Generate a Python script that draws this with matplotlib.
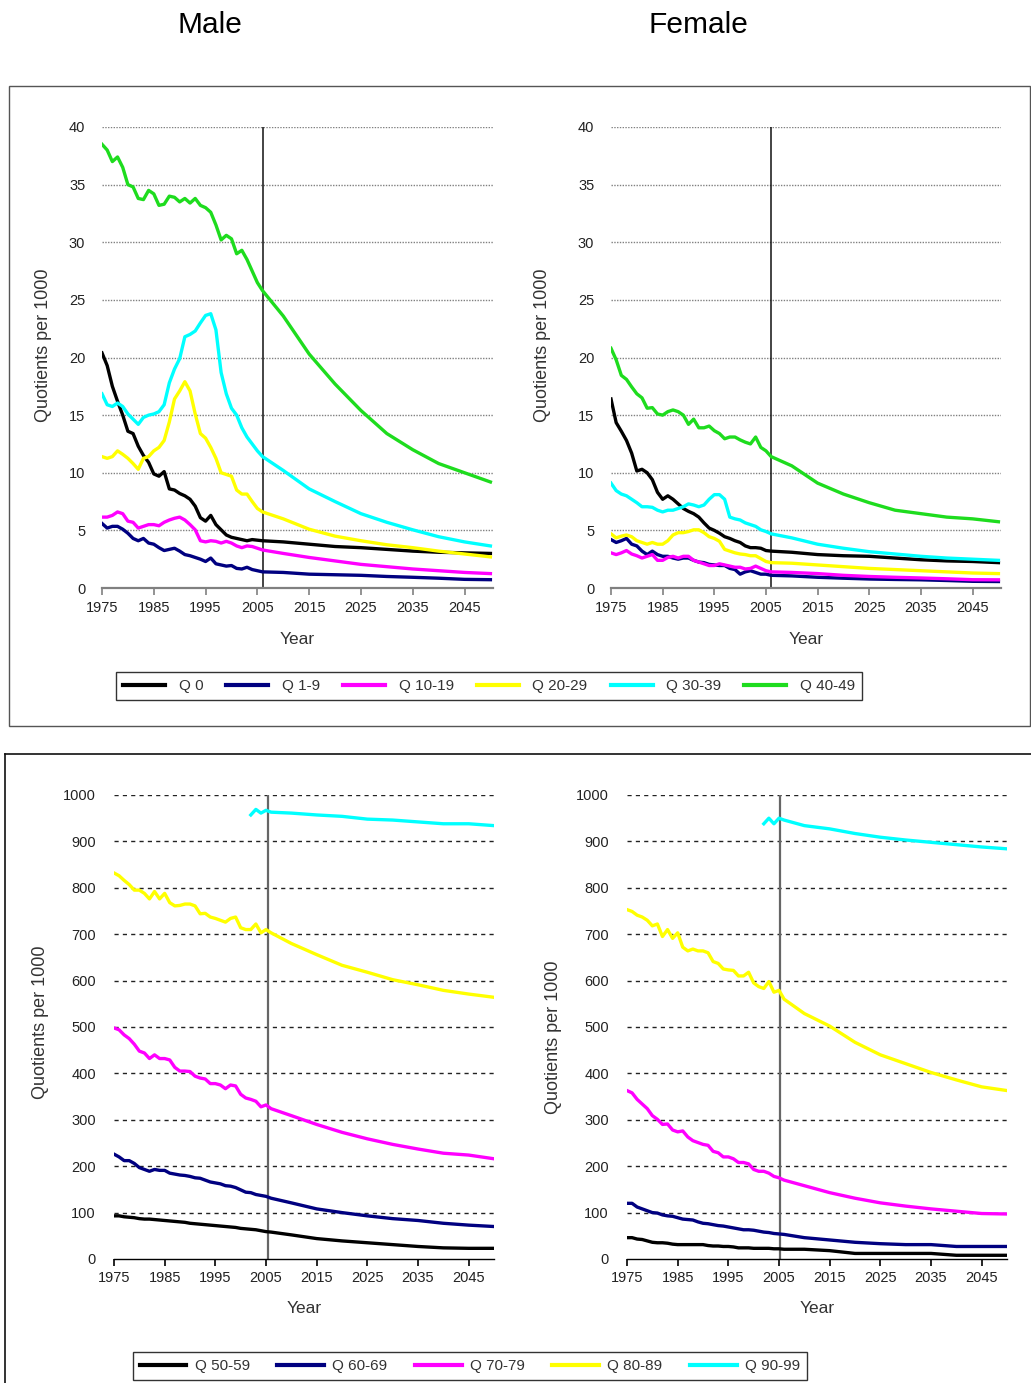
import numpy as np
import matplotlib
matplotlib.use("Agg")
import matplotlib.pyplot as plt
from matplotlib.lines import Line2D
from matplotlib.patches import Rectangle

plt.rcParams["font.family"] = ["Liberation Sans", "DejaVu Sans"]

W, H = 1031, 1383
NAN = np.nan

# Observed years 1975-2006, then projections every five years
years = list(range(1975, 2007)) + [2010, 2015, 2020, 2025, 2030, 2035, 2040, 2045, 2050]

# ---- Younger age groups, quotients per 1000 ----
young_labels = ["Q 0", "Q 1-9", "Q 10-19", "Q 20-29", "Q 30-39", "Q 40-49"]
young_colors = ["#000000", "#000080", "#ff00ff", "#ffff00", "#00ffff", "#1edc1e"]

male_q0 = [20.4, 19.3, 17.5, 16.2, 15.0, 13.6, 13.4, 12.3, 11.5, 10.9, 9.9, 9.7, 10.1, 8.6, 8.5, 8.2,
           8.0, 7.7, 7.1, 6.1, 5.8, 6.3, 5.5, 5.05, 4.6, 4.4, 4.3, 4.2, 4.1, 4.2, 4.15, 4.1,
           4.0, 3.8, 3.6, 3.5, 3.35, 3.2, 3.1, 3.05, 3.0]
male_q1_9 = [5.6, 5.2, 5.35, 5.35, 5.1, 4.75, 4.3, 4.1, 4.3, 3.9, 3.8, 3.5, 3.25, 3.35, 3.45, 3.2,
             2.9, 2.8, 2.65, 2.5, 2.3, 2.6, 2.1, 2.0, 1.9, 1.95, 1.7, 1.65, 1.8, 1.6, 1.5, 1.4,
             1.35, 1.2, 1.15, 1.1, 1.0, 0.93, 0.85, 0.75, 0.72]
male_q10_19 = [6.15, 6.15, 6.3, 6.6, 6.45, 5.8, 5.7, 5.2, 5.35, 5.5, 5.5, 5.4, 5.7, 5.9, 6.05, 6.15,
               5.9, 5.5, 5.05, 4.1, 4.0, 4.1, 4.05, 3.9, 4.05, 3.9, 3.65, 3.5, 3.65, 3.6, 3.45, 3.3,
               3.0, 2.65, 2.35, 2.05, 1.85, 1.65, 1.5, 1.35, 1.25]
male_q20_29 = [11.4, 11.25, 11.4, 11.9, 11.6, 11.25, 10.8, 10.3, 11.25, 11.4, 11.9, 12.2, 12.8, 14.4, 16.4, 17.1,
               17.9, 17.1, 15.1, 13.4, 13.0, 12.2, 11.25, 10.0, 9.85, 9.7, 8.5, 8.15, 8.15, 7.5, 6.9, 6.6,
               6.0, 5.1, 4.5, 4.1, 3.75, 3.5, 3.2, 2.95, 2.7]
male_q30_39 = [16.85, 15.9, 15.75, 16.05, 15.75, 15.1, 14.65, 14.2, 14.8, 15.0, 15.1, 15.3, 15.9, 17.8, 19.0, 19.9,
               21.8, 22.0, 22.3, 23.0, 23.65, 23.8, 22.4, 18.7, 16.85, 15.6, 15.0, 13.9, 13.1, 12.5, 11.9, 11.4,
               10.2, 8.6, 7.5, 6.45, 5.7, 5.05, 4.45, 4.0, 3.65]
male_q40_49 = [38.5, 38.0, 37.0, 37.4, 36.5, 35.0, 34.8, 33.8, 33.7, 34.5, 34.2, 33.2, 33.3, 34.0, 33.9, 33.5,
               33.8, 33.4, 33.8, 33.2, 33.0, 32.6, 31.5, 30.2, 30.6, 30.3, 29.0, 29.3, 28.5, 27.5, 26.5, 25.8,
               23.6, 20.3, 17.7, 15.4, 13.4, 12.0, 10.8, 10.0, 9.2]

female_q0 = [16.4, 14.35, 13.6, 12.8, 11.7, 10.15, 10.3, 10.0, 9.4, 8.3, 7.7, 8.0, 7.7, 7.3, 6.9, 6.65,
             6.45, 6.15, 5.65, 5.2, 5.0, 4.75, 4.45, 4.3, 4.1, 3.95, 3.65, 3.5, 3.5, 3.45, 3.25, 3.2,
             3.1, 2.9, 2.8, 2.75, 2.6, 2.45, 2.35, 2.3, 2.2]
female_q1_9 = [4.2, 3.95, 4.1, 4.3, 3.8, 3.65, 3.2, 2.9, 3.2, 2.9, 2.75, 2.75, 2.6, 2.5, 2.6, 2.6,
               2.4, 2.25, 2.2, 2.05, 2.0, 1.95, 1.95, 1.7, 1.6, 1.2, 1.4, 1.5, 1.35, 1.2, 1.2, 1.1,
               1.05, 0.93, 0.85, 0.78, 0.74, 0.71, 0.65, 0.58, 0.56]
female_q10_19 = [3.05, 2.9, 3.05, 3.25, 2.95, 2.8, 2.6, 2.75, 2.9, 2.4, 2.4, 2.65, 2.75, 2.6, 2.75, 2.75,
                 2.4, 2.25, 2.1, 1.95, 1.95, 2.1, 2.0, 1.9, 1.8, 1.8, 1.65, 1.7, 1.9, 1.7, 1.5, 1.4,
                 1.35, 1.25, 1.1, 1.0, 0.93, 0.87, 0.8, 0.72, 0.71]
female_q20_29 = [4.7, 4.35, 4.5, 4.6, 4.45, 4.1, 3.95, 3.8, 3.95, 3.8, 3.8, 4.1, 4.6, 4.8, 4.8, 4.9,
                 5.05, 5.05, 4.8, 4.45, 4.3, 4.05, 3.35, 3.2, 3.05, 2.95, 2.9, 2.8, 2.8, 2.55, 2.3, 2.2,
                 2.15, 2.0, 1.85, 1.7, 1.6, 1.5, 1.4, 1.3, 1.25]
female_q30_39 = [9.1, 8.45, 8.15, 8.0, 7.7, 7.4, 7.05, 7.05, 7.0, 6.75, 6.6, 6.75, 6.75, 6.9, 7.05, 7.3,
                 7.2, 7.05, 7.2, 7.7, 8.1, 8.1, 7.7, 6.15, 6.0, 5.9, 5.65, 5.5, 5.35, 5.05, 4.9, 4.7,
                 4.35, 3.8, 3.45, 3.15, 2.95, 2.75, 2.6, 2.5, 2.4]
female_q40_49 = [20.8, 19.8, 18.45, 18.1, 17.45, 16.85, 16.5, 15.6, 15.65, 15.1, 15.0, 15.3, 15.45, 15.3, 15.0, 14.2,
                 14.65, 13.9, 13.9, 14.05, 13.65, 13.4, 12.95, 13.1, 13.1, 12.85, 12.65, 12.5, 13.1, 12.2, 11.9, 11.4,
                 10.6, 9.1, 8.15, 7.4, 6.75, 6.45, 6.15, 6.0, 5.75]

# ---- Older age groups, quotients per 1000 ----
old_labels = ["Q 50-59", "Q 60-69", "Q 70-79", "Q 80-89", "Q 90-99"]
old_colors = ["#000000", "#000080", "#ff00ff", "#ffff00", "#00ffff"]

male_q50_59 = [93, 93, 91, 90, 89, 87, 86, 86, 85, 84, 83, 82, 81, 80, 79, 77,
               76, 75, 74, 73, 72, 71, 70, 69, 68, 66, 65, 64, 63, 61, 59, 58,
               52, 44, 39, 35, 31, 27, 24, 23, 23]
male_q60_69 = [226, 220, 212, 212, 206, 197, 193, 189, 193, 191, 191, 185, 183, 181, 180, 178,
               175, 174, 170, 166, 164, 162, 158, 157, 154, 149, 144, 143, 139, 137, 135, 131,
               121, 108, 100, 93, 87, 83, 77, 73, 70]
male_q70_79 = [498, 494, 483, 475, 463, 448, 444, 432, 440, 432, 432, 429, 413, 405, 405, 404,
               394, 390, 388, 378, 378, 375, 367, 375, 373, 355, 347, 344, 340, 328, 332, 324,
               309, 290, 273, 259, 247, 237, 228, 224, 216]
male_q80_89 = [832, 826, 816, 807, 795, 795, 788, 776, 792, 776, 788, 768, 761, 762, 765, 765,
               761, 744, 745, 737, 734, 730, 726, 734, 737, 714, 710, 710, 722, 703, 710, 703,
               680, 656, 633, 618, 602, 591, 579, 571, 564]
male_q90_99 = [NAN] * 27 + [957, 969, 961, 967, 963,
               961, 957, 954, 948, 946, 942, 938, 938, 934]

female_q50_59 = [46, 46, 43, 42, 39, 36, 35, 35, 34, 32, 31, 31, 31, 31, 31, 31,
                 29, 28, 28, 27, 27, 26, 24, 24, 24, 23, 23, 23, 23, 22, 22, 21,
                 21, 18, 12, 12, 12, 12, 8, 8, 8]
female_q60_69 = [120, 120, 112, 108, 104, 100, 99, 95, 93, 92, 89, 86, 85, 84, 80, 77,
                 76, 74, 72, 71, 69, 67, 65, 63, 63, 62, 60, 58, 57, 55, 54, 53,
                 46, 41, 36, 33, 31, 31, 27, 27, 27]
female_q70_79 = [363, 358, 344, 334, 324, 309, 301, 290, 291, 278, 274, 276, 263, 255, 251, 247,
                 245, 232, 229, 220, 220, 216, 208, 208, 205, 193, 189, 189, 185, 178, 175, 170,
                 158, 143, 131, 121, 114, 108, 103, 98, 97]
female_q80_89 = [753, 749, 741, 737, 730, 718, 722, 695, 710, 691, 703, 672, 664, 668, 664, 664,
                 660, 641, 637, 625, 623, 622, 610, 610, 618, 595, 587, 583, 598, 575, 579, 560,
                 529, 502, 467, 440, 421, 402, 386, 371, 363]
female_q90_99 = [NAN] * 27 + [938, 950, 938, 950, 946,
                 934, 927, 917, 909, 903, 898, 893, 888, 884]

x_ticks = list(range(1975, 2046, 10))
base_year = 2006

fig = plt.figure(figsize=(W / 100, H / 100), dpi=100)


def axes_px(left, top, right, bottom):
    return fig.add_axes([left / W, 1 - bottom / H, (right - left) / W, (bottom - top) / H])


def style_axes(ax, ymax, ystep, grid_style, axis_color, vline_x, vline_color, vline_lw,
               xmax, ylabel_x, ylabel_y, xlabel_y, ypad):
    ax.set_xlim(1975, xmax)
    ax.set_ylim(0, ymax)
    yt = np.arange(0, ymax + 1, ystep)
    ax.set_yticks(yt)
    ax.set_xticks(x_ticks)
    for v in yt[1:]:
        ax.axhline(v, **grid_style, zorder=0)
    for s in ("top", "right", "left"):
        ax.spines[s].set_visible(False)
    ax.spines["bottom"].set_color(axis_color)
    ax.spines["bottom"].set_linewidth(1.6 if axis_color != "black" else 1.0)
    ax.tick_params(axis="x", length=5, width=1.2, color=axis_color, pad=4,
                   labelsize=10.5, labelcolor="#222222")
    ax.tick_params(axis="y", length=0, pad=ypad, labelsize=10.5, labelcolor="#222222")
    ax.axvline(vline_x, ymin=0, ymax=1, color=vline_color, lw=vline_lw, zorder=1)
    ax.set_ylabel("Quotients per 1000", fontsize=13, color="#333333")
    ax.yaxis.set_label_coords(ylabel_x, ylabel_y)
    ax.set_xlabel("Year", fontsize=12.5, color="#333333")
    ax.xaxis.set_label_coords(0.5, xlabel_y)
    ax.set_facecolor("none")


top_grid = dict(color="#808080", lw=1.0, ls=(0, (1, 1)))
low_grid = dict(color="#222222", lw=1.0, ls=(0, (3, 3)))

# Panel frames
fig.add_artist(Rectangle((9 / W, 1 - 726 / H), (1030 - 9) / W, (726 - 86) / H,
                         transform=fig.transFigure, fill=False, edgecolor="#555555", lw=1.0))
fig.add_artist(Line2D([5 / W, 1.0], [1 - 754 / H, 1 - 754 / H], transform=fig.transFigure,
                      color="#111111", lw=1.2))
fig.add_artist(Line2D([5 / W, 5 / W], [1 - 754 / H, 0.0], transform=fig.transFigure,
                      color="#111111", lw=1.2))

# Titles
fig.text(210 / W, 1 - 25 / H, "Male", ha="center", va="center", fontsize=21.5)
fig.text(698 / W, 1 - 25 / H, "Female", ha="center", va="center", fontsize=21.5)

lw = 2.4

# Top row: younger ages
ax_m = axes_px(102, 127, 493, 588)
ax_f = axes_px(611, 127, 1001, 588)
for ax, series in ((ax_m, [male_q0, male_q1_9, male_q10_19, male_q20_29, male_q30_39, male_q40_49]),
                   (ax_f, [female_q0, female_q1_9, female_q10_19, female_q20_29, female_q30_39, female_q40_49])):
    for vals, col, lab in zip(series, young_colors, young_labels):
        ax.plot(years, vals, color=col, lw=lw, label=lab, zorder=3, solid_joinstyle="round")
style_axes(ax_m, 40, 5, top_grid, "#808080", base_year, "#111111", 1.1, 2050.5,
           -50 / 391, 0.527, -0.096, 12)
style_axes(ax_f, 40, 5, top_grid, "#808080", base_year, "#111111", 1.1, 2050.5,
           -60 / 390, 0.527, -0.096, 12)

# Bottom row: older ages
ax_m2 = axes_px(114, 795, 494, 1259)
ax_f2 = axes_px(627, 795, 1007, 1259)
for ax, series in ((ax_m2, [male_q50_59, male_q60_69, male_q70_79, male_q80_89, male_q90_99]),
                   (ax_f2, [female_q50_59, female_q60_69, female_q70_79, female_q80_89, female_q90_99])):
    for vals, col, lab in zip(series, old_colors, old_labels):
        ax.plot(years, vals, color=col, lw=lw, label=lab, zorder=3, solid_joinstyle="round")
style_axes(ax_m2, 1000, 100, low_grid, "black", base_year - 0.6, "#666666", 1.6, 2050,
           -65 / 380, 0.511, -0.091, 13)
style_axes(ax_f2, 1000, 100, low_grid, "black", base_year - 0.8, "#666666", 1.6, 2050,
           -65 / 380, 0.478, -0.091, 13)

# Legends
leg_kw = dict(loc="center", frameon=True, fancybox=False, framealpha=1, edgecolor="#333333",
              fontsize=11, borderpad=0.45)
h, l = ax_m.get_legend_handles_labels()
leg1 = fig.legend(h, l, ncol=6, bbox_to_anchor=(489 / W, 1 - 686 / H),
                  handlelength=2.75, handletextpad=0.9, columnspacing=1.5, **leg_kw)
h, l = ax_m2.get_legend_handles_labels()
leg2 = fig.legend(h, l, ncol=5, bbox_to_anchor=(470 / W, 1 - 1366 / H),
                  handlelength=3.05, handletextpad=0.55, columnspacing=1.8, **leg_kw)
for leg in (leg1, leg2):
    leg.get_frame().set_linewidth(1.0)
    for line in leg.get_lines():
        line.set_linewidth(3)
    for t in leg.get_texts():
        t.set_color("#333333")

fig.savefig("out.png", dpi=100)
